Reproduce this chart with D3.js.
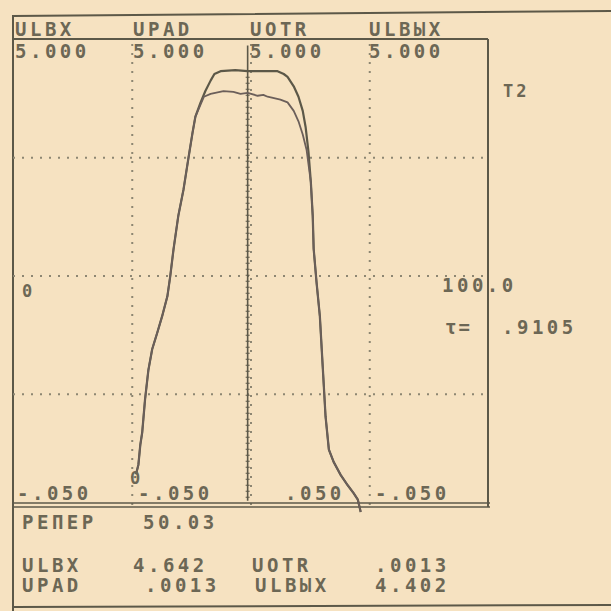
<!DOCTYPE html>
<html><head><meta charset="utf-8">
<script src="https://cdn.jsdelivr.net/npm/d3@7"></script>
<style>
html,body{margin:0;padding:0;background:#f6e2c1;}
svg{display:block;}
text{font-family:"DejaVu Sans Mono",monospace;fill:#6c6755;font-weight:bold;}
</style></head>
<body>
<script>
// ---- data ----
const channelNames = ["ULBX", "UPAD", "UOTR", "ULBЫX"];
const channelScales = ["5.000", "5.000", "5.000", "5.000"];
const channelOffsets = ["-.050", "-.050", ".050", "-.050"];
const outerX = [25.9,26.4,26.8,27.2,27.8,28.5,29.3,30.4,31.4,32.5,33.1,33.8,34.8,35.9,36.9,37.8,38.4,39.5,40.5,41.6,42.4,43.7,46.8,49.4,53.2,55.7,57.0,57.8,59.1,60.1,61.0,61.6,62.2,62.7,63.1,63.3,63.9,64.6,65.2,65.8,66.5,67.5,69.0,70.5,71.7,72.6,73.2];
const outerY = [0.40,0.50,0.71,0.84,1.19,1.50,1.72,1.90,2.07,2.28,2.49,2.78,3.13,3.41,3.73,4.01,4.18,4.33,4.45,4.56,4.63,4.66,4.67,4.66,4.66,4.66,4.63,4.60,4.50,4.39,4.24,4.07,3.81,3.49,3.13,2.78,2.43,2.07,1.54,1.01,0.66,0.53,0.39,0.28,0.20,0.13,0.00];
const innerX = [25.9,26.4,26.8,27.2,27.8,28.5,29.3,30.4,31.4,32.5,33.1,33.8,34.8,35.9,36.9,37.8,38.4,39.5,40.2,41.6,44.3,46.4,47.9,49.4,51.5,52.7,53.6,56.3,57.8,59.1,60.1,61.0,61.8,62.7,63.1,63.3,63.9,64.6,65.2,65.8,66.5,67.5,69.0,70.5,71.7,72.6,73.2];
const innerY = [0.40,0.50,0.71,0.84,1.19,1.50,1.72,1.90,2.07,2.28,2.49,2.78,3.13,3.41,3.73,4.01,4.18,4.31,4.39,4.42,4.45,4.44,4.42,4.43,4.40,4.41,4.39,4.36,4.33,4.24,4.13,3.99,3.83,3.49,3.13,2.78,2.43,2.07,1.54,1.01,0.66,0.53,0.39,0.28,0.20,0.13,0.00];
const cursorX = 49.4;
const gridX = [25, 50, 75];
const gridY = [1.25, 2.5, 3.75];
const refLabel = ["РЕПЕР", "50.03"];
const readout1 = ["ULBX", "4.642", "UOTR", ".0013"];
const readout2 = ["UPAD", ".0013", "ULBЫX", "4.402"];
const sideLabels = {t2: "T2", zero: "0", level: "100.0", tauL: "τ=", tauV: ".9105"};

// ---- layout ----
const W = 611, H = 611;
const L = 13, R = 488, T = 39, B = 505;
const x = d3.scaleLinear().domain([0, 100]).range([L, R]);
const y = d3.scaleLinear().domain([0, 5]).range([512, T]);
const ink = "#5c5848";

const svg = d3.select("body").append("svg").attr("width", W).attr("height", H);
svg.append("rect").attr("width", W).attr("height", H).attr("fill", "#f6e2c1");

// outer frame
svg.append("path").attr("d", `M${L},611 L${L},16 L611,11`).attr("fill","none").attr("stroke",ink).attr("stroke-width",2);
svg.append("line").attr("x1",L).attr("x2",611).attr("y1",607).attr("y2",605).attr("stroke",ink).attr("stroke-width",2);

// grid via axes
const gx = svg.append("g").attr("transform", `translate(0,${B})`)
  .call(d3.axisBottom(x).tickValues(gridX).tickSize(-(B - T)).tickFormat(""));
const gy = svg.append("g").attr("transform", `translate(${L},0)`)
  .call(d3.axisLeft(y).tickValues(gridY).tickSize(-(R - L)).tickFormat(""));
[gx, gy].forEach(g => {
  g.select(".domain").remove();
  g.selectAll(".tick line").attr("stroke", "#8d8672").attr("stroke-width", 2)
    .attr("stroke-dasharray", "2,7");
});

// plot box
svg.append("line").attr("x1",L).attr("x2",R).attr("y1",T).attr("y2",T).attr("stroke",ink).attr("stroke-width",2);
svg.append("line").attr("x1",R).attr("x2",R).attr("y1",T).attr("y2",507).attr("stroke",ink).attr("stroke-width",2);
svg.append("line").attr("x1",L).attr("x2",R+2).attr("y1",503).attr("y2",503).attr("stroke",ink).attr("stroke-width",1.6);
svg.append("line").attr("x1",L).attr("x2",R+2).attr("y1",507).attr("y2",507).attr("stroke",ink).attr("stroke-width",1.6);

// cursor
svg.append("line").attr("x1",x(cursorX)).attr("x2",x(cursorX)).attr("y1",y(4.93)).attr("y2",y(0.12))
  .attr("stroke",ink).attr("stroke-width",1.6);
svg.append("line").attr("x1",x(cursorX)).attr("x2",x(cursorX)).attr("y1",y(4.6)).attr("y2",y(0.12))
  .attr("stroke",ink).attr("stroke-width",4).attr("stroke-dasharray","1,5");

// curves
const line = d3.line().x(d => x(d[0])).y(d => y(d[1])).curve(d3.curveMonotoneX);
svg.append("path").datum(d3.zip(outerX, outerY)).attr("d", d3.line().x(d => x(d[0])).y(d => y(d[1])))
  .attr("fill","none").attr("stroke",ink).attr("stroke-width",2.2).attr("stroke-linejoin","round");
svg.append("path").datum(d3.zip(innerX, innerY)).attr("d", d3.line().x(d => x(d[0])).y(d => y(d[1])))
  .attr("fill","none").attr("stroke","#6b5f5a").attr("stroke-width",1.8).attr("stroke-linejoin","round");

// text helper
function txt(s, px, py, size, ls) {
  svg.append("text").attr("x", px).attr("y", py).attr("font-size", size)
    .attr("letter-spacing", ls).text(s);
}
const colX = [15, 133, 250, 369];
channelNames.forEach((s, i) => txt(s, colX[i], 36, 19, 3.5));
channelScales.forEach((s, i) => txt(s, colX[i], 58, 19, 3.5));
const offX = [17, 138, 285, 375];
channelOffsets.forEach((s, i) => txt(s, offX[i], 500, 19, 3.5));

txt(sideLabels.t2, 503, 97, 17, 3);
txt(sideLabels.zero, 22, 297, 17, 0);
txt(sideLabels.level, 442, 292, 19, 3.5);
txt(sideLabels.tauL, 445, 334, 19, 2);
txt(sideLabels.tauV, 502, 334, 19, 3.5);
txt(sideLabels.zero, 130, 484, 17, 0);

txt(refLabel[0], 22, 529, 19, 3.5);
txt(refLabel[1], 143, 529, 19, 3.5);

const roX = [22, 133, 252, 375];
readout1.forEach((s, i) => txt(s, roX[i], 572, 19, 3.5));
const ro2X = [22, 145, 255, 375];
readout2.forEach((s, i) => txt(s, ro2X[i], 592, 19, 3.5));
</script>
</body></html>
